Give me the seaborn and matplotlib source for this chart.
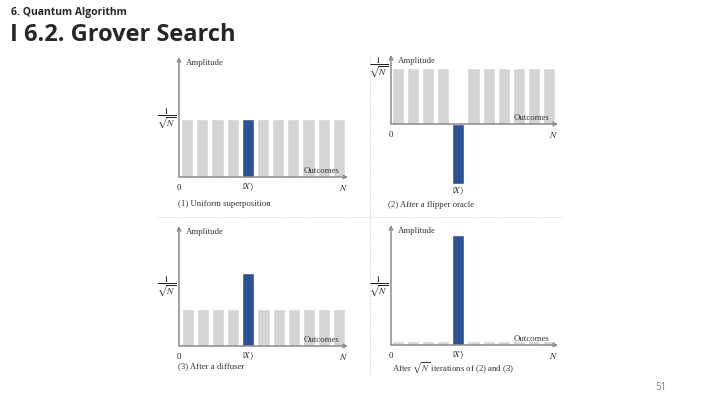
import matplotlib
matplotlib.use('Agg')
import matplotlib.pyplot as plt
import seaborn as sns

# data: 11 outcomes, marked state |X> is the 5th one
outcomes = [0, 1, 2, 3, 4, 5, 6, 7, 8, 9, 10]
marked = [False, False, False, False, True, False, False, False, False, False, False]
amp_uniform = [1.0, 1.0, 1.0, 1.0, 1.0, 1.0, 1.0, 1.0, 1.0, 1.0, 1.0]
amp_oracle = [1.0, 1.0, 1.0, 1.0, -1.07, 1.0, 1.0, 1.0, 1.0, 1.0, 1.0]
amp_diffuser = [0.63, 0.63, 0.63, 0.63, 1.24, 0.63, 0.63, 0.63, 0.63, 0.63, 0.63]
amp_final = [0.07, 0.07, 0.07, 0.07, 1.9, 0.07, 0.07, 0.07, 0.07, 0.07, 0.07]
captions = ['(1) Uniform superposition', '(2) After a flipper oracle',
            '(3) After a diffuser', r'After $\sqrt{N}$ iterations of (2) and (3)']

sns.set_style('white')
plt.rcParams['font.family'] = ['Liberation Serif', 'DejaVu Serif']
plt.rcParams['mathtext.fontset'] = 'stix'

GRAY = '#d4d4d4'
BLUE = '#2c5196'
AXC = '#8a8a8a'
W, H = 720, 405

fig = plt.figure(figsize=(7.2, 4.05), dpi=100)


def px(x, y):
    return x / W, 1 - y / H


# layout per panel (pixels): y-axis x, arrow end x, arrow top y, baseline y,
# bottom of axes y, unit px, bar left, bar right, caption position
panels = [
    (amp_uniform, 179, 348, 57, 177, 177, 58, 181, 345, (178, 204)),
    (amp_oracle, 391, 558, 55, 124, 188, 56, 392, 555, (388, 205)),
    (amp_diffuser, 179, 348, 226, 346, 346, 59, 182, 345, (178, 366)),
    (amp_final, 391, 558, 225, 345, 345, 58, 392, 555, (392, 368)),
]

for i, (vals, x0, x1, top, base, bottom, unit, bl, br, cap) in enumerate(panels):
    ax = fig.add_axes([x0 / W, 1 - bottom / H, (x1 - x0) / W, (bottom - top) / H])
    sns.barplot(x=outcomes, y=vals, hue=marked, palette={False: GRAY, True: BLUE},
                dodge=False, width=0.8, saturation=1, errorbar=None, legend=False, ax=ax)
    slot = (br - bl) / 10.8
    xa = -0.4 - (bl - x0) / slot
    xb = 10.4 + (x1 - br) / slot
    ax.set_xlim(xa, xb)
    ax.set_ylim(-(bottom - base) / unit, (base - top) / unit)
    ax.axis('off')
    ymax = (base - top) / unit
    arrow = dict(arrowstyle='->', color=AXC, lw=1.1, mutation_scale=6, shrinkA=0, shrinkB=0)
    ax.annotate('', xy=(xb, 0), xytext=(xa, 0), arrowprops=arrow, annotation_clip=False)
    ax.annotate('', xy=(xa, ymax), xytext=(xa, 0), arrowprops=arrow, annotation_clip=False)

    ax.annotate('Amplitude', xy=(xa, ymax), xytext=(5, -4), textcoords='offset points',
                ha='left', va='center', fontsize=6.3, color='#333333', annotation_clip=False)
    ax.annotate(r'$\dfrac{1}{\sqrt{N}}$', xy=(xa, 1.0), xytext=(-9, 0), textcoords='offset points',
                ha='center', va='center', fontsize=6.8, color='#222222', annotation_clip=False)
    ax.annotate('Outcomes', xy=(xb, 0), xytext=(-6, 4), textcoords='offset points',
                ha='right', va='center', fontsize=6.3, color='#333333', annotation_clip=False)
    ax.annotate('0', xy=(xa, 0), xytext=(0, -8), textcoords='offset points',
                ha='center', va='center', fontsize=6.3, color='#222222', annotation_clip=False)
    ax.annotate('$N$', xy=(xb, 0), xytext=(-3, -8), textcoords='offset points',
                ha='center', va='center', fontsize=6.8, color='#222222', annotation_clip=False)
    kx = marked.index(True)
    ky = min(vals[kx], 0)
    ax.annotate(r'$|X\rangle$', xy=(kx, ky), xytext=(0, -7 if ky == 0 else -5),
                textcoords='offset points', ha='center', va='center', fontsize=6.5,
                color='#222222', annotation_clip=False)
    fig.text(*px(*cap), captions[i], ha='left', va='center', fontsize=6.3, color='#333333')

# dotted separators
fig.add_artist(plt.Line2D([157 / W, 562 / W], [1 - 217 / H, 1 - 217 / H],
                          color='#bbbbbb', lw=0.6, ls=':'))
fig.add_artist(plt.Line2D([370 / W, 370 / W], [1 - 55 / H, 1 - 377 / H],
                          color='#bbbbbb', lw=0.6, ls=':'))

# slide title
fig.text(*px(11, 12), '6. Quantum Algorithm', family='Open Sans', fontweight='bold',
         fontsize=7.5, ha='left', va='center')
fig.text(*px(10, 35), 'I 6.2. Grover Search', family='Open Sans', fontweight='bold',
         fontsize=17, ha='left', va='center')
fig.text(*px(655, 387), '51', family='Open Sans', fontsize=7, color='#7f7f7f',
         ha='left', va='center')

fig.savefig('out.png', dpi=100, facecolor='white')
